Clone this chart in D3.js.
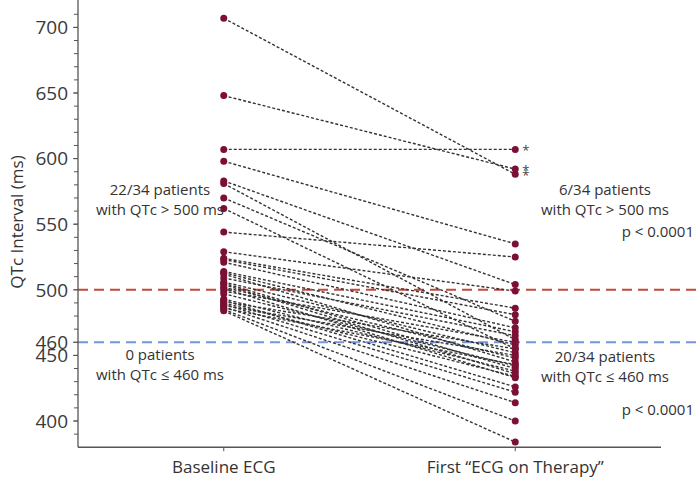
<!DOCTYPE html>
<html><head><meta charset="utf-8">
<script src="https://cdn.jsdelivr.net/npm/d3@7"></script>
<style>body{margin:0;background:#fff}svg{display:block}text{font-family:"Open Sans","Noto Sans",sans-serif}</style>
</head><body><svg id="c" width="696" height="477"></svg>
<script>
const categories = ["Baseline ECG", "First \u201cECG on Therapy\u201d"];
const baseline = [707,648,607,598,583,581,570,562,544,529,524,523,521,514,513,512,509,506,505,504,502,501,499,497,493,492,491,490,489,488,487,486,485,484];
const therapy  = [588,592,607,535,504,462,476,455,525,499,486,481,471,468,458,445,465,452,440,436,448,433,460,442,438,426,455,434,422,450,414,443,400,384];
const majorTicks = [400,450,460,500,550,600,650,700];
const minorTicks = d3.range(390, 711, 10);
const thresholds = [{v:500,color:"#c9473a"},{v:460,color:"#7396dc"}];
const starred = [607,592,588];
const annotations = [
  {x:160,y:195,t:"22/34 patients",a:"middle"},{x:160,y:215,t:"with QTc > 500 ms",a:"middle"},
  {x:160,y:360,t:"0 patients",a:"middle"},{x:160,y:380,t:"with QTc \u2264 460 ms",a:"middle"},
  {x:605,y:195,t:"6/34 patients",a:"middle"},{x:605,y:215,t:"with QTc > 500 ms",a:"middle"},
  {x:694,y:237,t:"p < 0.0001",a:"end"},
  {x:605,y:362,t:"20/34 patients",a:"middle"},{x:605,y:382,t:"with QTc \u2264 460 ms",a:"middle"},
  {x:694,y:415,t:"p < 0.0001",a:"end"}
];

const svg = d3.select("#c");
const y = d3.scaleLinear().domain([400,700]).range([421,27.4]);
const x = d3.scaleLinear().domain([0.5,2.5]).range([78,661]);
const yBot = 380;

thresholds.forEach(t=>{
  svg.append("line").attr("x1",x(0.5)).attr("x2",696).attr("y1",y(t.v)).attr("y2",y(t.v))
    .attr("stroke",t.color).attr("stroke-width",2).attr("stroke-dasharray","10,6");
});

const pairs = baseline.map((b,i)=>({b, t:therapy[i]}));
svg.append("g").selectAll("line").data(pairs).join("line")
  .attr("x1",x(1)).attr("x2",x(2)).attr("y1",d=>y(d.b)).attr("y2",d=>y(d.t))
  .attr("stroke","#333").attr("stroke-width",1.4).attr("stroke-dasharray","3,2");

const dotColor = "#7b0f36";
svg.append("g").selectAll("circle").data(baseline).join("circle")
  .attr("cx",x(1)).attr("cy",d=>y(d)).attr("r",3.5).attr("fill",dotColor);
svg.append("g").selectAll("circle").data(therapy).join("circle")
  .attr("cx",x(2)).attr("cy",d=>y(d)).attr("r",3.5).attr("fill",dotColor);

svg.append("g").selectAll("text").data(starred).join("text")
  .attr("x",x(2)+7).attr("y",d=>y(d)+6).text("*")
  .attr("font-size",13).attr("fill","#444");

const ya = svg.append("g").attr("transform",`translate(${x(0.5)},0)`);
ya.append("line").attr("y1",0).attr("y2",y(yBot)).attr("stroke","#555").attr("stroke-width",1.3);
ya.selectAll(".mn").data(minorTicks).join("line").attr("class","mn")
  .attr("x1",-4).attr("x2",0).attr("y1",d=>y(d)).attr("y2",d=>y(d)).attr("stroke","#555");
ya.selectAll(".mj").data(majorTicks).join("line").attr("class","mj")
  .attr("x1",-5).attr("x2",0).attr("y1",d=>y(d)).attr("y2",d=>y(d)).attr("stroke","#555");
ya.selectAll("text").data(majorTicks).join("text")
  .attr("x",-10).attr("y",d=>y(d)).attr("dy","0.36em").attr("text-anchor","end")
  .attr("font-size",19).attr("fill","#3a3a3a").text(d=>d);
svg.append("text").attr("transform","translate(23,222) rotate(-90)")
  .attr("text-anchor","middle").attr("font-size",17).attr("fill","#333").attr("font-weight",500)
  .text("QTc Interval (ms)");

const xa = svg.append("g").attr("transform",`translate(0,${y(yBot)})`);
xa.append("line").attr("x1",x(0.5)).attr("x2",x(2.5)).attr("stroke","#555").attr("stroke-width",1.3);
xa.selectAll(".t").data([1,2]).join("line").attr("class","t")
  .attr("x1",d=>x(d)).attr("x2",d=>x(d)).attr("y1",0).attr("y2",4).attr("stroke","#555");
xa.selectAll("text").data([1,2]).join("text")
  .attr("x",d=>x(d)).attr("y",26).attr("text-anchor","middle")
  .attr("font-size",17).attr("fill","#333").text(d=>categories[d-1]);

svg.append("g").selectAll("text").data(annotations).join("text")
  .attr("x",d=>d.x).attr("y",d=>d.y).attr("text-anchor",d=>d.a)
  .attr("font-size",15).attr("fill","#333").text(d=>d.t);
</script></body></html>
